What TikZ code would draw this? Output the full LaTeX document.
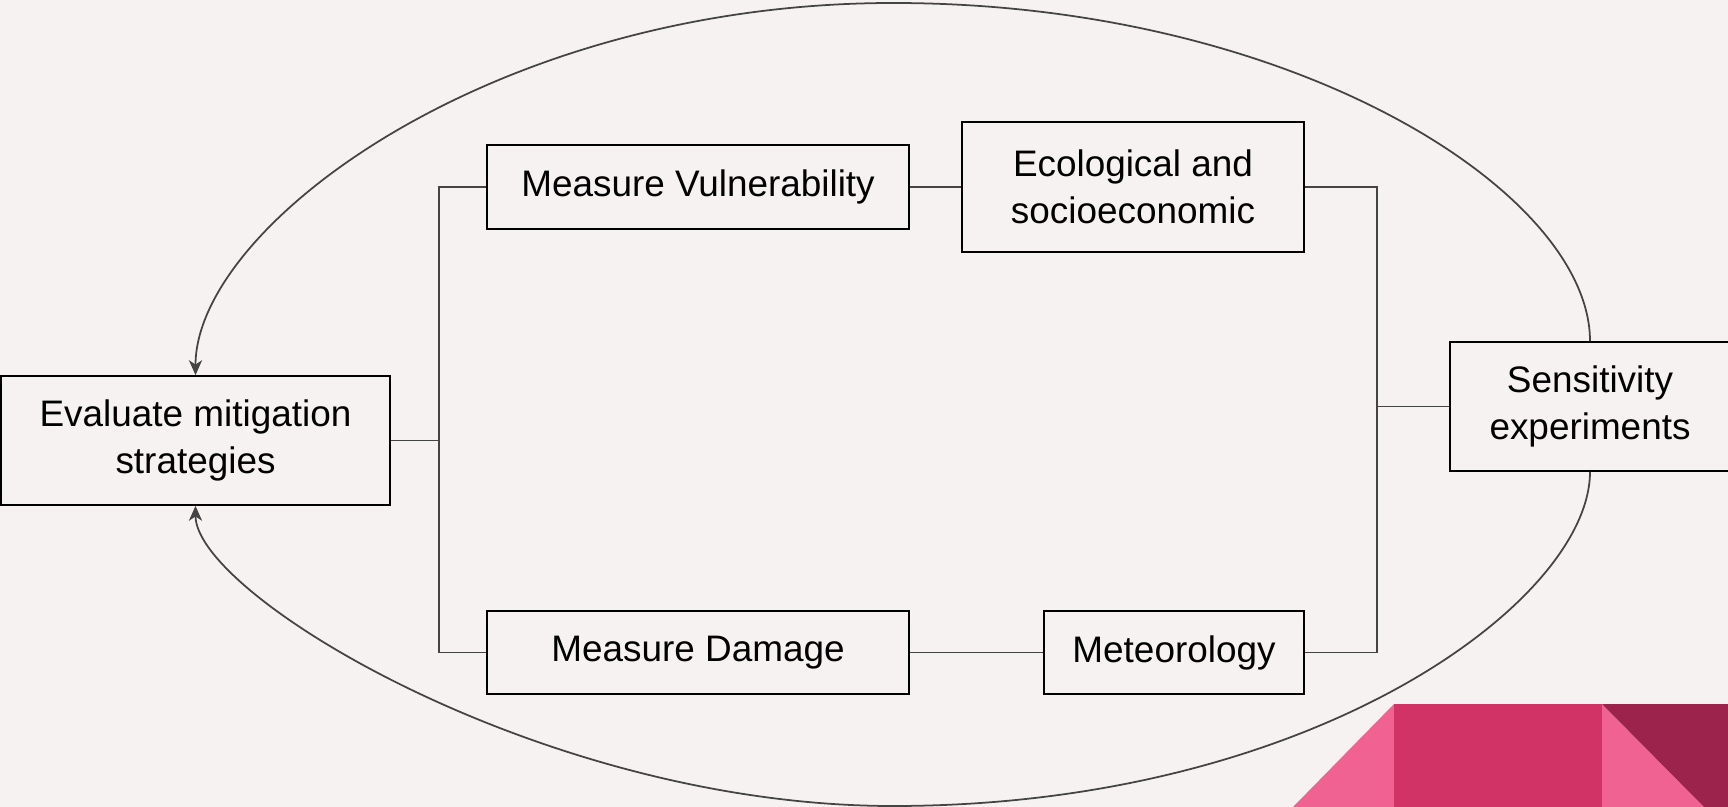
\documentclass[tikz,border=0pt]{standalone}
\usepackage{fontspec}
\setmainfont{Liberation Sans}
\usetikzlibrary{arrows.meta,positioning}

\definecolor{bgcol}{RGB}{247,242,242}
\definecolor{linkgray}{RGB}{68,68,68}
\definecolor{pinklight}{RGB}{240,98,146}
\definecolor{pinkmid}{RGB}{209,51,103}
\definecolor{pinkdark}{RGB}{156,36,76}

\tikzset{
  box/.style={draw=black,line width=1pt,align=center,inner sep=0pt,
    font=\fontsize{21}{26.5}\selectfont},
  link/.style={draw=linkgray,line width=1pt},
  back/.style={link,-{Stealth[length=8.5pt,width=7.5pt,inset=2.5pt]}},
}

\begin{document}
\begin{tikzpicture}[x=0.02cm,y=-0.02cm]
    % background
    \fill[bgcol] (0,0) rectangle (1728,807);
    \useasboundingbox (0,0) rectangle (1728,807);

    % boxes
    \node[box,minimum width=7.78cm,minimum height=2.58cm] (eval) at (195.5,440.5) {Evaluate mitigation\\strategies};
    \node[box,minimum width=8.44cm,minimum height=1.68cm] (vuln) at (698,187) {Measure Vulnerability};
    \node[box,minimum width=6.84cm,minimum height=2.6cm] (eco) at (1133,187) {Ecological and\\socioeconomic};
    \node[box,minimum width=8.44cm,minimum height=1.66cm] (dmg) at (698,652.5) {Measure Damage};
    \node[box,minimum width=5.2cm,minimum height=1.66cm] (met) at (1174,652.5) {Meteorology};
    \node[box,minimum width=5.6cm,minimum height=2.58cm] (sens) at (1590,406.5) {Sensitivity\\experiments};

    % brackets
    \coordinate (lsplit) at (439,440.5);
    \coordinate (rsplit) at (1377,406.5);
    \path[link]
    (eval) -- (lsplit)
    (vuln.west) -| (lsplit) |- (dmg.west)
    (vuln) -- (eco)
    (dmg) -- (met)
    (eco.east) -| (rsplit) |- (met.east)
    (rsplit) -- (sens);

    % loops back to the evaluation
    \coordinate (top) at (893,3);
    \coordinate (bot) at (893,806);
    \path[back]
    (sens.north) .. controls (1590,192) and (1293,3) .. (top)
    .. controls (493,3) and (195.5,226) .. (eval.north);
    \path[back]
    (sens.south) .. controls (1590,601) and (1313,806) .. (bot)
    .. controls (543,806) and (195.5,595) .. (eval.south);

    % corner decoration
    \fill[pinklight] (1293,807) -- (1394,704) -- (1394,807) -- cycle;
    \fill[pinkmid] (1394,704) rectangle (1602,807);
    \fill[pinklight] (1602,704) -- (1704,807) -- (1602,807) -- cycle;
    \fill[pinkdark] (1602,704) -- (1728,704) -- (1728,807) -- (1704,807) -- cycle;
\end{tikzpicture}
\end{document}
